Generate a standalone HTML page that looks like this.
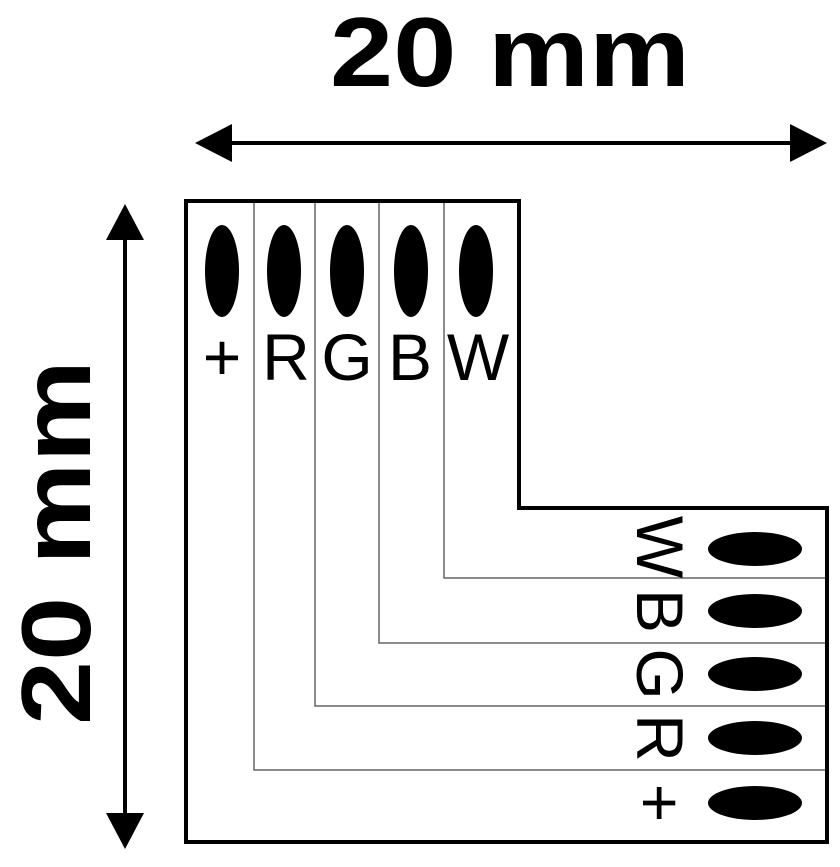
<!DOCTYPE html>
<html><head><style>html,body{margin:0;padding:0;background:#fff}</style></head>
<body>
<svg width="840" height="862" viewBox="0 0 840 862" xmlns="http://www.w3.org/2000/svg">
<rect width="840" height="862" fill="#fff"/>
<text x="330" y="86" font-family="Liberation Sans, sans-serif" font-weight="bold" font-size="98" textLength="360" lengthAdjust="spacingAndGlyphs">20 mm</text>
<text transform="translate(90,725) rotate(-90)" font-family="Liberation Sans, sans-serif" font-weight="bold" font-size="98" textLength="365" lengthAdjust="spacingAndGlyphs">20 mm</text>
<line x1="215" y1="143" x2="806" y2="143" stroke="#000" stroke-width="4"/>
<polygon points="195,143 232,124 232,162" fill="#000"/>
<polygon points="827,143 790,124 790,162" fill="#000"/>
<line x1="125" y1="225" x2="125" y2="828" stroke="#000" stroke-width="4"/>
<polygon points="125,204 106,240 144,240" fill="#000"/>
<polygon points="125,849 106,813 144,813" fill="#000"/>
<g stroke="#666" stroke-width="1.5" fill="none">
<polyline points="254,200 254,770 828,770"/>
<polyline points="315,200 315,706 828,706"/>
<polyline points="379,200 379,643 828,643"/>
<polyline points="444,200 444,578 828,578"/>
</g>
<polygon points="186,201 519,201 519,508 827,508 827,842 186,842" fill="none" stroke="#000" stroke-width="4"/>
<g fill="#000">
<ellipse cx="222" cy="271" rx="17" ry="46"/>
<ellipse cx="284" cy="271" rx="17" ry="46"/>
<ellipse cx="347" cy="271" rx="17" ry="46"/>
<ellipse cx="411" cy="271" rx="17" ry="46"/>
<ellipse cx="476" cy="271" rx="17" ry="46"/>
<ellipse cx="755" cy="549" rx="47" ry="17"/>
<ellipse cx="755" cy="611" rx="47" ry="17"/>
<ellipse cx="755" cy="674" rx="47" ry="17"/>
<ellipse cx="755" cy="738" rx="47" ry="17"/>
<ellipse cx="755" cy="803" rx="47" ry="17"/>
</g>
<g font-family="Liberation Sans, sans-serif" font-size="66" text-anchor="middle">
<text x="222" y="380">+</text>
<text x="286" y="380">R</text>
<text x="347" y="380">G</text>
<text x="410" y="380">B</text>
<text x="478" y="380">W</text>
<text transform="translate(637,547) rotate(90)">W</text>
<text transform="translate(637,611) rotate(90)">B</text>
<text transform="translate(637,674) rotate(90)">G</text>
<text transform="translate(637,738) rotate(90)">R</text>
<text transform="translate(637,803) rotate(90)">+</text>
</g>
</svg>
</body></html>
